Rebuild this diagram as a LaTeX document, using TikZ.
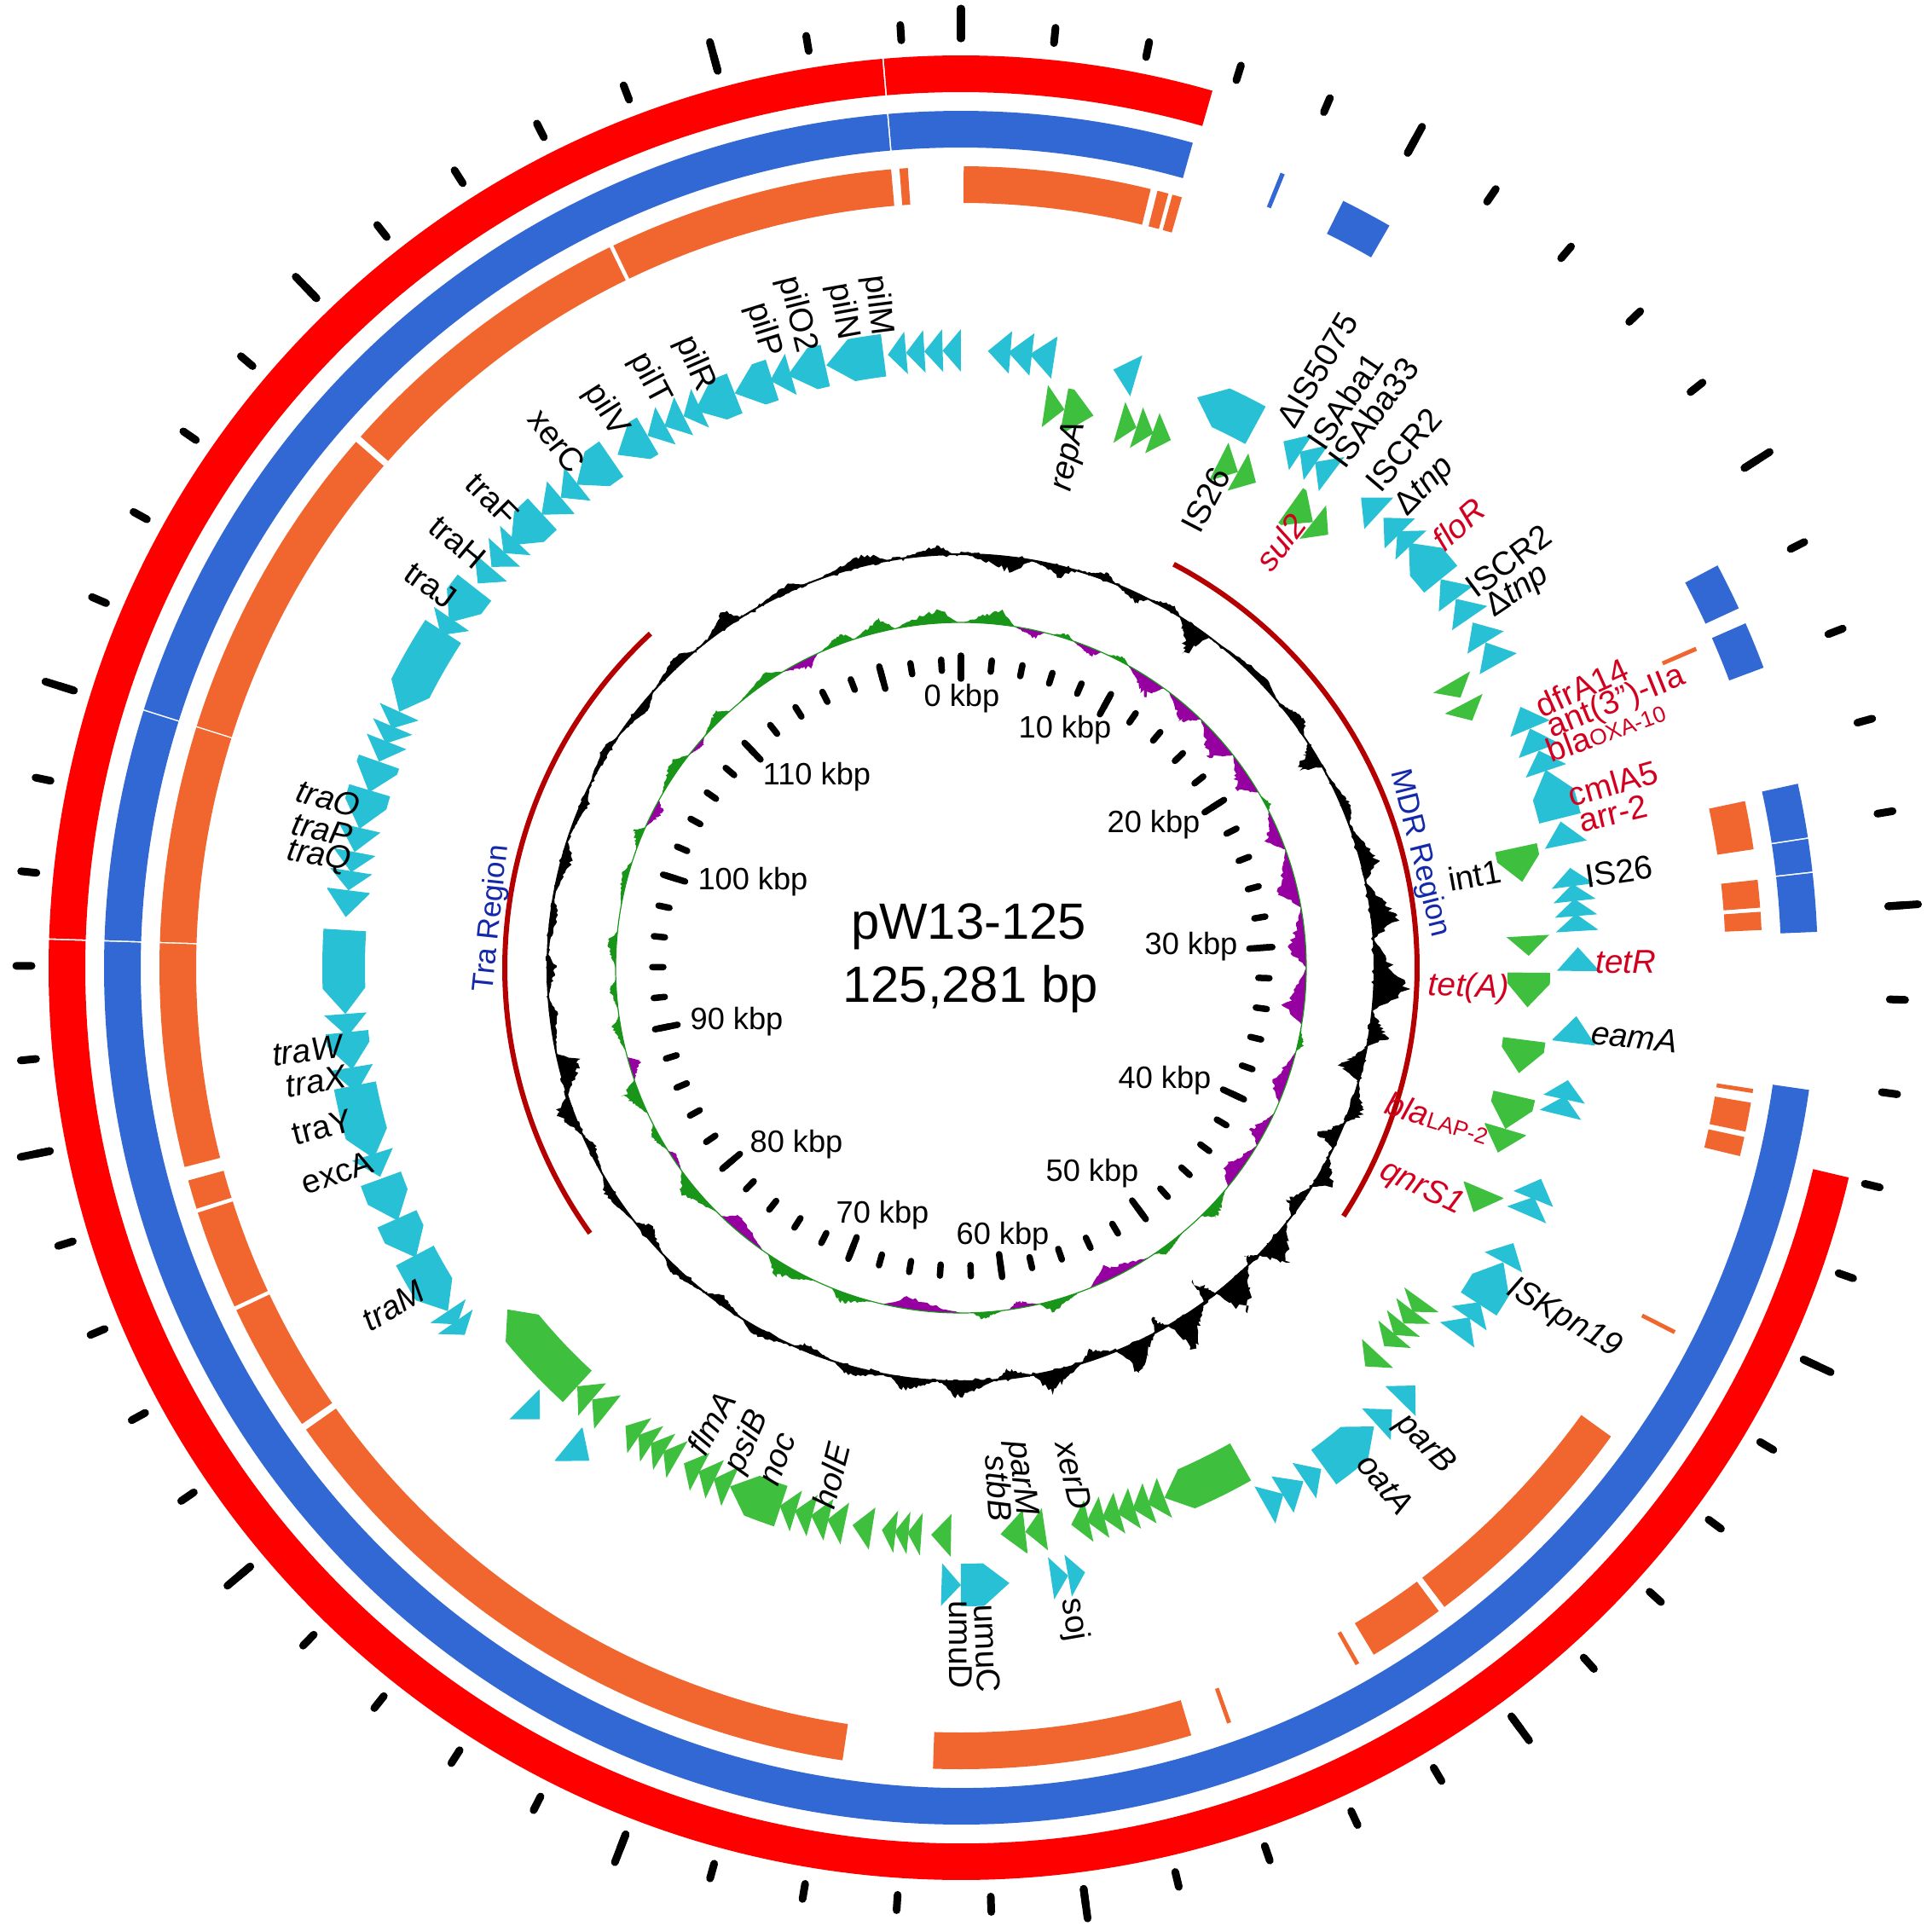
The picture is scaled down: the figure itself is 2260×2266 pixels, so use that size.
\documentclass[tikz,border=0pt]{standalone}
\usepackage{fontspec}
\setmainfont{Liberation Sans}
\usepackage{tikz}

\definecolor{ringred}{RGB}{255,0,0}
\definecolor{ringblue}{RGB}{50,104,212}
\definecolor{ringorange}{RGB}{240,102,46}
\definecolor{genecyan}{RGB}{40,192,212}
\definecolor{genegreen}{RGB}{62,192,62}
\definecolor{skewpos}{RGB}{25,150,25}
\definecolor{skewneg}{RGB}{150,0,160}
\definecolor{regionred}{RGB}{180,0,0}
\definecolor{regionblue}{RGB}{20,40,170}
\definecolor{resred}{RGB}{210,0,30}

% annular piece, angles clockwise from the top
\newcommand{\ringpart}[5]{%
  \fill[#5] ({90-(#3)}:#1) arc[start angle={90-(#3)}, end angle={90-(#4)}, radius=#1]
    -- ({90-(#4)}:#2) arc[start angle={90-(#4)}, end angle={90-(#3)}, radius=#2] -- cycle;}

% gene arrow: from, to, inner radius, colour, direction (1 clockwise, -1 anticlockwise)
\newcommand{\genearrow}[5]{%
  \pgfmathsetmacro{\ga}{#1}%
  \pgfmathsetmacro{\gb}{#2}%
  \pgfmathsetmacro{\gr}{#3}%
  \pgfmathsetmacro{\gm}{#3+25}%
  \pgfmathsetmacro{\gR}{#3+50}%
  \ifnum#5>0
    \pgfmathsetmacro{\gh}{max(\ga,\gb-2.4)}%
    \fill[#4] ({90-\ga}:\gr) arc[start angle={90-\ga}, end angle={90-\gh}, radius=\gr]
      -- ({90-\gb}:\gm) -- ({90-\gh}:\gR)
      arc[start angle={90-\gh}, end angle={90-\ga}, radius=\gR] -- cycle;
  \else
    \pgfmathsetmacro{\gh}{min(\gb,\ga+2.4)}%
    \fill[#4] ({90-\gb}:\gr) arc[start angle={90-\gb}, end angle={90-\gh}, radius=\gr]
      -- ({90-\ga}:\gm) -- ({90-\gh}:\gR)
      arc[start angle={90-\gh}, end angle={90-\gb}, radius=\gR] -- cycle;
  \fi}

% one spike of a GC plot: base radius, from, to, height, colour
\newcommand{\gcbump}[5]{%
  \fill[#5] ({90-(#2)}:#1) -- plot[domain=#2:#3, samples=26]
    ({90-\x}:{#1+(#4)*min((\x-(#2))/(0.7*((#3)-(#2))),((#3)-\x)/(0.3*((#3)-(#2))))*(0.6+0.4*rnd)})
    -- ({90-(#3)}:#1) arc[start angle={90-(#3)}, end angle={90-(#2)}, radius=#1] -- cycle;}

\begin{document}
\pgfmathsetseed{125}
\begin{tikzpicture}[
    x=0.01cm, y=0.01cm,
    lab/.style={font=\fontsize{11}{13}\selectfont, inner sep=0pt},
    ilab/.style={font=\fontsize{11}{13}\selectfont\itshape, inner sep=0pt},
    rlab/.style={lab, text=resred},
    rilab/.style={ilab, text=resred},
    kbp/.style={font=\fontsize{10.3}{12}\selectfont, inner sep=0pt},
    region/.style={font=\fontsize{10}{12}\selectfont, text=regionblue, inner sep=0pt},
    tick/.style={line width=0.075cm, line cap=round},
    outtick/.style={line width=0.09cm, line cap=round}
]
\useasboundingbox (-1127,-1131) rectangle (1133,1135);

% outer comparison rings
\ringpart{1027}{1070}{103.3}{271.75}{ringred}
\ringpart{1027}{1070}{271.85}{355.05}{ringred}
\ringpart{1027}{1070}{355.15}{376}{ringred}

\ringpart{962}{1005}{98.2}{271.75}{ringblue}
\ringpart{962}{1005}{271.85}{287.45}{ringblue}
\ringpart{962}{1005}{287.55}{355.05}{ringblue}
\ringpart{962}{1005}{355.15}{375.7}{ringblue}
\foreach \s/\e in {21.9/22.2, 26.5/30, 62/65.2, 66.3/69.5, 77.6/81.25, 81.35/83.55, 83.65/87.6}
  {\ringpart{962}{1005}{\s}{\e}{ringblue}}

\foreach \s/\e in {0.2/13.7, 14.2/15.0, 15.3/16.0, 66.4/66.7, 78/81.5, 83.7/85.7, 86/87.3,
    98.7/99.0, 99.7/101.8, 102.2/103.6, 116.9/117.2, 125.8/142.9, 143.4/149, 150.2/150.5,
    160.3/160.6, 163.3/182, 188.5/234.8, 235.3/244.7, 245/252.2, 252.5/254.6, 255.6/271.75,
    271.85/287.45, 287.55/311, 311.5/334, 334.3/355.0, 355.6/356.2}
  {\ringpart{897}{940}{\s}{\e}{ringorange}}

% outer ruler
\foreach \k in {0,...,62}
  \draw[outtick] ({90-\k*5.74708}:1090) -- ({90-\k*5.74708}:1108);
\foreach \k in {0,5,...,60}
  \draw[outtick] ({90-\k*5.74708}:1090) -- ({90-\k*5.74708}:1125);

% inner ruler
\foreach \k in {0,...,62}
  \draw[tick] ({90-\k*5.74708}:349) -- ({90-\k*5.74708}:362);
\foreach \k in {0,5,...,60}
  \draw[tick] ({90-\k*5.74708}:339) -- ({90-\k*5.74708}:366);

\node[kbp] (k0) at (1,316) {0 kbp};
\node[kbp] (k10) at (122,279) {10 kbp};
\node[kbp] (k20) at (226,168) {20 kbp};
\node[kbp] (k30) at (270,25) {30 kbp};
\node[kbp] (k40) at (239,-132) {40 kbp};
\node[kbp] (k50) at (154,-241) {50 kbp};
\node[kbp] (k60) at (49,-315) {60 kbp};
\node[kbp] (k70) at (-92,-290) {70 kbp};
\node[kbp] (k80) at (-193,-207) {80 kbp};
\node[kbp] (k90) at (-263,-63) {90 kbp};
\node[kbp] (k100) at (-244,101) {100 kbp};
\node[kbp] (k110) at (-169,224) {110 kbp};

\node[font=\fontsize{17}{20}\selectfont] (plasmid) at (9,48) {pW13-125};
\node[font=\fontsize{17}{20}\selectfont] (length) at (11,-25) {125,281 bp};

% GC skew
\foreach \s/\e/\h in {0.5/9/20, 15/19/7, 25/29/8, 60/63/7, 100/104/8, 130/136/18, 140/146/10,
    160/167/15, 173/178/10, 195/202/15, 205/214/20, 225/234/20, 238/243/12, 245/251/24,
    256/262/12, 263/268/10, 270/276/14, 280/288/10, 290/294/14, 300/308/16, 312/318/14,
    320/329/12, 336/342/14, 342/349/18, 349/359.5/20}
  {\gcbump{405}{\s}{\e}{\h}{skewpos}}
\foreach \s/\e/\h in {9/14/-12, 19/24/-12, 29/36/-24, 37/44/-22, 44/52/-30, 52/59.5/-26,
    63/70/-22, 70/80/-28, 80/90/-26, 90/99.5/-28, 104/113/-22, 115/121/-20, 121/129.5/-22,
    147/158/-20, 167/172/-10, 180/193/-18, 215/224/-20, 234/238/-8, 251/255/-16,
    294/299/-14, 308/312/-8, 329/335.5/-14}
  {\gcbump{405}{\s}{\e}{\h}{skewneg}}
\draw[skewpos, line width=0.012cm] (0,0) circle[radius=405];

% GC content
\fill[black, even odd rule] plot[domain=0:359.5, samples=720] ({90-\x}:{485+7*(rnd-0.5)}) -- cycle
  (0,0) circle[radius=485];
\foreach \s/\e/\h in {0.5/10/-16, 10/16/-12, 17/22/8, 22/27/-10, 27/32/8, 32/37/-30, 38/50/8,
    50/56/12, 57/61/-24, 62/70/10, 70/78/18, 78/86/28, 86/96/35, 96/101/20, 101/106/-25,
    106/112/15, 112/116/-22, 117/122/18, 122/127/-15, 128/134/30, 134/136/-10, 136/142/38,
    142/144/-25, 144/150/35, 150/152/-15, 152/158/32, 158/163/-12, 163/170/22, 170/175/-10,
    175/183/18, 183/190/14, 190/198/10, 198/204/-8, 204/212/10, 212/218/-10, 218/226/8,
    226/232/-12, 232/240/10, 240/246/-8, 246/252/18, 252/258/-26, 258/266/-8, 266/272/-10,
    272/280/-8, 280/288/-12, 288/296/-8, 296/304/8, 304/312/-10, 312/320/10, 322/328/16,
    330/338/8, 340/350/12, 352/359/10}
  {\gcbump{485}{\s}{\e}{1.3*\h}{black}}
\draw[black, line width=0.02cm] (0,0) circle[radius=485];

% region brackets
\draw[regionred, line width=0.06cm] (62.2:535) arc[start angle=62.2, end angle=-33, radius=535];
\draw[regionred, line width=0.06cm] (-144.4:535) arc[start angle=-144.4, end angle=-227.1, radius=535];
\node[region, rotate=-76] (mdr) at (14:554) {MDR Region};
\node[region, rotate=84] (tra) at (174:553) {Tra Region};

% reverse strand genes
\foreach \s/\e in {353.2/354.9, 354.9/356.6, 356.6/358.3, 358.3/360, 2.5/4.6, 4.4/6.6, 6.4/8.7,
    14.3/16.5, 22.5/28.5, 31.5/33.4, 33.3/35.1, 35/36.9, 40.4/42.6, 43.2/45.3, 45/46.8,
    46.5/51, 51/53.3, 53.3/55.5, 56/58.2, 58.2/60.5, 65/67.2, 67.2/69.4, 69.4/71.4, 71.3/76,
    76.3/78.5, 80.7/82.4, 82.2/83.8, 83.6/85.2, 85/86.6, 88.1/90.3, 94.5/97, 100.5/102.3,
    102/103.8, 110/112, 111.8/113.6, 116.5/118.5, 118.5/123, 122.8/124.6, 124.5/126.5,
    132.6/134.6, 135.7/137.7, 138/144, 144.3/146.2, 146.3/148.6, 148.5/150.5, 168.4/170,
    170/171.6, 175.5/180, 180/181.8, 217/219.5, 223/225, 233.5/235, 234.7/236.2,
    236.2/242.2, 242/246, 245.8/250, 250.2/252.4, 252/259, 258.3/260.7, 260.5/264,
    263.6/265.7, 265.7/273.5, 274.7/277.2, 277.2/279, 278.9/280.8, 280.8/283.1, 283/286.7,
    286.5/289.5, 289.5/291.5, 291.3/293, 292.8/294.5, 294.5/303, 302.6/304.4, 304/308,
    308.5/310.4, 310.5/312.3, 312.2/313.8, 313.2/317.3, 317.2/319.6, 319.6/321.6,
    321.5/325.5, 326.2/329.5, 329.5/331.4, 331.3/333.3, 333.3/335, 334.5/338.5,
    338.5/342.2, 342/344, 343.7/347.3, 347.4/352.8}
  {\genearrow{\s}{\e}{699}{genecyan}{-1}}

% forward strand genes
\foreach \s/\e in {8.5/10.5, 10.5/13.5, 16.2/18, 18/19.8, 19.7/21.7, 27/29.2, 29.2/31.3,
    35.5/38.3, 38.3/40.3, 59.8/61.6, 62.3/64.2, 77.8/81.3, 86.8/88.8, 90.5/94, 97.3/100.7,
    103/106.5, 106.5/109, 113/115.5, 125.8/127.3, 127.2/128.8, 128.8/130.3, 130.2/131.8,
    132.8/134.6, 150.5/159, 159/160.8, 160.6/162.4, 162.2/164, 163.8/165.6, 165.4/167.2,
    167/168.8, 171.5/173.5, 173.5/176, 181/183, 184/185.4, 185.3/186.7, 186.6/188, 189/191,
    191.8/193.6, 193.5/195.3, 195.2/197, 196.9/198.6, 198.5/204, 204/205.8, 205.7/207.5,
    207.4/209.2, 210/211.6, 211.5/213.1, 213/214.6, 214.5/216.2, 218.5/220.5, 220.5/222.5,
    222.5/233}
  {\genearrow{\s}{\e}{641}{genegreen}{1}}

% gene labels
\node[lab, rotate=-82.8] (pilM) at (97.2:783) {pilM};
\node[lab, rotate=-79.8] (pilN) at (100.2:782) {pilN};
\node[lab, rotate=-75.9] (pilO2) at (104.1:790) {pilO2};
\node[lab, rotate=-72.8] (pilP) at (107.2:783) {pilP};
\node[lab, rotate=-66.2] (pilR) at (113.8:774) {pilR};
\node[lab, rotate=-62.1] (pilT) at (117.9:781) {pilT};
\node[lab, rotate=-57.5] (pilV) at (122.5:775) {pilV};
\node[lab, rotate=-52.5] (xerC) at (127.5:779) {xerC};
\node[lab, rotate=-45] (traF) at (135:777) {traF};
\node[lab, rotate=-40.2] (traH) at (139.8:773) {traH};
\node[lab, rotate=-35.8] (traJ) at (144.2:767) {traJ};
\node[ilab, rotate=-15] (traO) at (165:768) {traO};
\node[ilab, rotate=-12.2] (traP) at (167.8:766) {traP};
\node[ilab, rotate=-9.8] (traQ) at (170.2:764) {traQ};
\node[ilab, rotate=7.2] (traW) at (187.2:773) {traW};
\node[ilab, rotate=10] (traX) at (190:768) {traX};
\node[lab, rotate=14] (traY) at (194:772) {traY};
\node[lab, rotate=18.2] (excA) at (198.2:770) {excA};
\node[ilab, rotate=30.8] (traM) at (210.8:775) {traM};
\node[ilab, rotate=61.2] (flmA) at (241.2:609) {flmA};
\node[ilab, rotate=65.8] (psiB) at (245.8:610) {psiB};
\node[ilab, rotate=69.7] (noc) at (249.7:615) {noc};
\node[ilab, rotate=75.7] (holE) at (255.7:615) {holE};
\node[lab, rotate=-90] (umuD) at (-90:794) {umuD};
\node[lab, rotate=-87.8] (umuC) at (-87.8:799) {umuC};
\node[lab, rotate=-80.2] (soj) at (-80.2:776) {soj};
\node[ilab, rotate=-85.8] (stbB) at (-85.8:612) {stbB};
\node[ilab, rotate=-83.3] (parM) at (-83.3:603) {parM};
\node[ilab, rotate=-77.5] (xerD) at (-77.5:610) {xerD};
\node[ilab, rotate=-50.6] (oatA) at (-50.6:784) {oatA};
\node[ilab, rotate=-45.8] (parB) at (-45.8:780) {parB};
\node[ilab, rotate=-30.2] (ISKpn19) at (-30.2:818) {ISKpn19};
\node[rilab, rotate=-25.6] (qnrS1) at (-25.6:599) {qnrS1};
\node[rilab, rotate=-17.5] (blaLAP) at (-17.5:586) {bla{\upshape\fontsize{7.5}{8}\selectfont LAP-2}};
\node[ilab, rotate=-5.9] (eamA) at (-5.9:794) {eamA};
\node[rilab, rotate=-2.3] (tetA) at (-2.3:596) {tet(A)};
\node[rilab, rotate=0.5] (tetR) at (0.5:780) {tetR};
\node[lab, rotate=8.3] (IS26b) at (8.3:780) {IS26};
\node[lab, rotate=10.2] (int1) at (10.2:612) {int1};
\node[rlab, rotate=13.3] (arr2) at (13.3:786) {arr-2};
\node[rlab, rotate=15.8] (cmlA5) at (15.8:795) {cmlA5};
\node[rlab, rotate=20.2] (blaOXA) at (20.2:806) {bla{\fontsize{7.5}{8}\selectfont OXA-10}};
\node[rlab, rotate=22] (ant) at (22:829) {ant(3")-IIa};
\node[rlab, rotate=24.3] (dfrA14) at (24.3:799) {dfrA14};
\node[lab, rotate=34] (tnpb) at (34:788) {Δ\textit{tnp}};
\node[lab, rotate=36.6] (ISCR2b) at (36.6:800) {ISCR2};
\node[rilab, rotate=41.7] (floR) at (41.7:782) {floR};
\node[lab, rotate=46] (tnpa) at (46:784) {Δ\textit{tnp}};
\node[lab, rotate=49.5] (ISCR2a) at (49.5:799) {ISCR2};
\node[rilab, rotate=53.1] (sul2) at (53.1:624) {sul2};
\node[lab, rotate=53.4] (ISAba33) at (53.4:811) {ISAba33};
\node[lab, rotate=55.9] (ISAba1) at (55.9:803) {ISAba1};
\node[lab, rotate=59.2] (IS5075) at (59.2:816) {ΔIS5075};
\node[lab, rotate=62.4] (IS26a) at (62.4:619) {IS26};
\node[ilab, rotate=78] (repA) at (78:613) {repA};

\end{tikzpicture}
\end{document}
